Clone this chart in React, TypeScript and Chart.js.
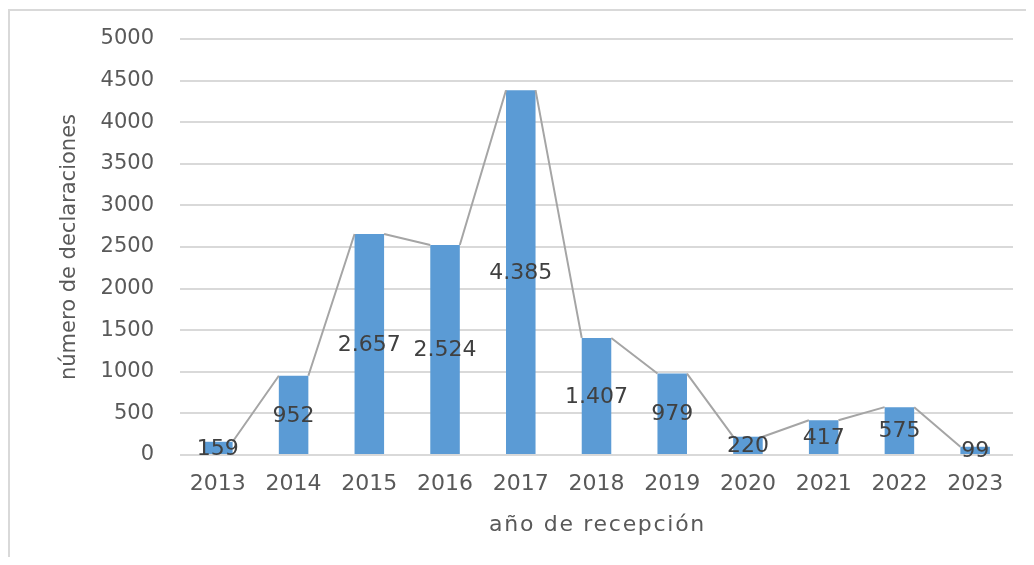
import React, { useEffect, useRef } from "react";
import { Chart, registerables } from "chart.js";

Chart.register(...registerables);

const years = ["2013", "2014", "2015", "2016", "2017", "2018", "2019", "2020", "2021", "2022", "2023"];
const declaraciones = [159, 952, 2657, 2524, 4385, 1407, 979, 220, 417, 575, 99];
const yMin = 0;
const yMax = 5000;
const yStep = 500;
const yTitle = "número de declaraciones";
const xTitle = "año de recepción";

const FONT = '"DejaVu Sans", sans-serif';
const AXIS_COLOR = "#595959";
const LABEL_COLOR = "#404040";
const BAR_COLOR = "#5b9bd5";
const LINE_COLOR = "#a5a5a5";
const GRID_COLOR = "#d9d9d9";

const fmt = (v: number) => String(v).replace(/\B(?=(\d{3})+(?!\d))/g, ".");

const seriesPlugin = {
  id: "seriesLinesAndLabels",
  afterDatasetsDraw(chart: any) {
    const meta = chart.getDatasetMeta(0);
    const ctx = chart.ctx as CanvasRenderingContext2D;
    const data = chart.data.datasets[0].data as number[];
    ctx.save();
    ctx.strokeStyle = LINE_COLOR;
    ctx.lineWidth = 2;
    ctx.lineJoin = "round";
    ctx.beginPath();
    for (let i = 0; i < meta.data.length - 1; i++) {
      const a: any = meta.data[i];
      const b: any = meta.data[i + 1];
      ctx.moveTo(a.x + a.width / 2, a.y);
      ctx.lineTo(b.x - b.width / 2, b.y);
    }
    ctx.stroke();
    ctx.font = `22px ${FONT}`;
    ctx.fillStyle = LABEL_COLOR;
    ctx.textAlign = "center";
    ctx.textBaseline = "middle";
    meta.data.forEach((el: any, i: number) => {
      const y = (el.y + el.base) / 2;
      ctx.fillText(fmt(data[i]), el.x, y + 1);
    });
    ctx.restore();
  },
  afterDraw(chart: any) {
    const ctx = chart.ctx as any;
    const area = chart.chartArea;
    ctx.save();
    ctx.font = `22px ${FONT}`;
    ctx.fillStyle = AXIS_COLOR;
    ctx.textAlign = "center";
    ctx.textBaseline = "alphabetic";
    ctx.letterSpacing = "1.7px";
    ctx.fillText(xTitle, (area.left + area.right) / 2 + 1, area.bottom + 76);
    ctx.restore();
  },
};

export default function App() {
  const ref = useRef<HTMLCanvasElement>(null);

  useEffect(() => {
    document.body.style.overflow = "hidden";
    if (!ref.current) return;
    const chart = new Chart(ref.current, {
      type: "bar",
      data: {
        labels: years,
        datasets: [
          {
            data: declaraciones,
            backgroundColor: BAR_COLOR,
            borderWidth: 0,
            barPercentage: 0.39,
            categoryPercentage: 1,
          },
        ],
      },
      options: {
        responsive: false,
        animation: false,
        events: [],
        layout: { padding: { left: 0, right: 13, top: 31, bottom: 0 } },
        plugins: {
          legend: { display: false },
          tooltip: { enabled: false },
        },
        scales: {
          x: {
            grid: { display: false, drawTicks: false },
            border: { display: false },
            ticks: { color: AXIS_COLOR, font: { family: FONT, size: 22 }, padding: 16, maxRotation: 0 },
            title: { display: false },
            afterFit: (s: any) => {
              s.height = 102;
            },
          },
          y: {
            min: yMin,
            max: yMax,
            ticks: {
              stepSize: yStep,
              color: AXIS_COLOR,
              font: { family: FONT, size: 21 },
              padding: 26,
              callback: (v: any) => String(v),
            },
            grid: { color: GRID_COLOR, lineWidth: 2, drawTicks: false },
            border: { display: false },
            title: {
              display: true,
              text: yTitle,
              color: AXIS_COLOR,
              font: { family: FONT, size: 21 },
              padding: { top: 49, bottom: 0 },
            },
            afterFit: (s: any) => {
              s.width = 172;
              s.paddingTop = 0;
              s.paddingBottom = 0;
            },
          },
        },
      },
      plugins: [seriesPlugin],
    });
    return () => chart.destroy();
  }, []);

  return (
    <div style={{ position: "relative", width: 1018, height: 549 }}>
      <div style={{ position: "absolute", left: -1, top: 1, width: 1030, height: 2, background: GRID_COLOR }} />
      <div style={{ position: "absolute", left: 0, top: 1, width: 2, height: 560, background: GRID_COLOR }} />
      <canvas ref={ref} width={1018} height={549} style={{ display: "block", position: "relative" }} />
    </div>
  );
}
